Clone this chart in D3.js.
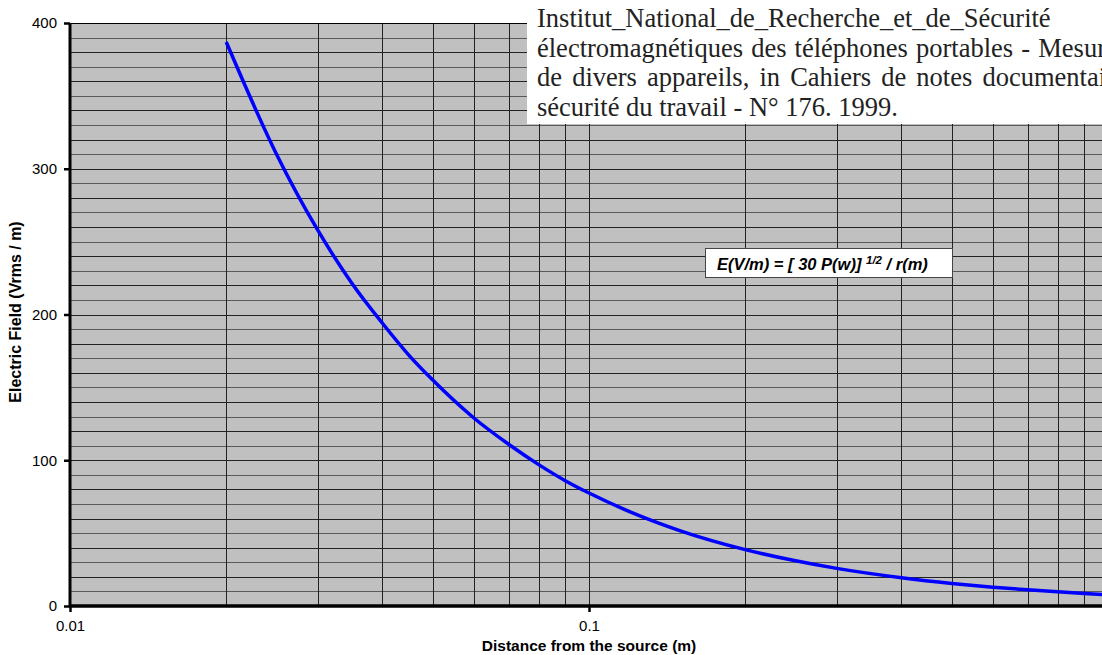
<!DOCTYPE html>
<html><head><meta charset="utf-8">
<script src="https://cdn.jsdelivr.net/npm/d3@7"></script>
<style>body{margin:0;background:#fff}svg{display:block}</style>
</head><body>
<svg id="c" width="1102" height="655"></svg>
<script>
const distance = [0.02, 0.025, 0.03, 0.035, 0.04, 0.045, 0.05, 0.06, 0.07, 0.08, 0.09, 0.1, 0.12, 0.15, 0.2, 0.25, 0.3, 0.4, 0.5, 0.6, 0.7, 0.8, 0.9, 1.0];
const field = [387, 310, 258, 221, 194, 172, 155, 129, 111, 97, 86, 77.5, 64.6, 51.6, 38.7, 31, 25.8, 19.4, 15.5, 12.9, 11.1, 9.7, 8.6, 7.75];
const xTickValues = [0.01, 0.1];
const xTickLabels = ["0.01", "0.1"];
const yTickValues = [0, 100, 200, 300, 400];
const xGridValues = [0.02,0.03,0.04,0.05,0.06,0.07,0.08,0.09,0.1,0.2,0.3,0.4,0.5,0.6,0.7,0.8,0.9];
const yGridValues = d3.range(10, 400, 10);
const citation = ["Institut_National_de_Recherche_et_de_Sécurité",
  "électromagnétiques des téléphones portables - Mesures",
  "de divers appareils, in Cahiers de notes documentaires -",
  "sécurité du travail - N° 176. 1999."];
const citationWordSpacing = [0, 1.5, 3.5, 0];

const svg = d3.select("#c");
const L = 70, T = 23, B = 606, R = 1108;
const x = d3.scaleLog().domain([0.01, 1]).range([L, R]);
const y = d3.scaleLinear().domain([0, 400]).range([B, T]);
const sans = "Liberation Sans, Arial, sans-serif";

svg.append("rect").attr("x", L).attr("y", T).attr("width", R - L).attr("height", B - T).attr("fill", "#c0c0c0");
const g = svg.append("g").attr("stroke", "#222").attr("stroke-width", 1).attr("shape-rendering", "crispEdges");
g.selectAll(".h").data(yGridValues).join("line")
  .attr("x1", L).attr("x2", R).attr("y1", d => Math.round(y(d)) + 0.5).attr("y2", d => Math.round(y(d)) + 0.5)
  .attr("stroke", (d, i) => i % 2 ? "#222" : "#5a5a5a");
g.selectAll(".v").data(xGridValues).join("line")
  .attr("y1", T).attr("y2", B).attr("x1", d => Math.round(x(d)) + 0.5).attr("x2", d => Math.round(x(d)) + 0.5);
g.append("line").attr("x1", L).attr("x2", R).attr("y1", T + 0.5).attr("y2", T + 0.5).attr("stroke", "#000");

// curve
const line = d3.line().x((d, i) => x(distance[i])).y(d => y(d)).curve(d3.curveMonotoneX);
svg.append("path").datum(field).attr("d", line).attr("fill", "none").attr("stroke", "#0000ff").attr("stroke-width", 3.5);

// axes
const yAxis = d3.axisLeft(y).tickValues(yTickValues).tickSize(6).tickPadding(7);
const ya = svg.append("g").attr("transform", `translate(${L},0)`).call(yAxis);
ya.select(".domain").attr("stroke", "#000").attr("stroke-width", 3).attr("d", `M0,${T}V${B + 1}`);
ya.selectAll(".tick line").attr("stroke", "#000").attr("stroke-width", 2.5);
ya.selectAll(".tick text").attr("font-family", sans).attr("font-size", 15).attr("fill", "#000");

const xAxis = d3.axisBottom(x).tickValues(xTickValues).tickFormat((d, i) => xTickLabels[i]).tickSize(6).tickPadding(8);
const xa = svg.append("g").attr("transform", `translate(0,${B})`).call(xAxis);
xa.select(".domain").attr("stroke", "#000").attr("stroke-width", 3.5).attr("d", `M${L - 1},0H${R}`);
xa.selectAll(".tick line").attr("stroke", "#000").attr("stroke-width", 2.5);
xa.selectAll(".tick text").attr("font-family", sans).attr("font-size", 15).attr("fill", "#000");

svg.append("text").attr("x", 589).attr("y", 651).attr("text-anchor", "middle")
  .attr("font-family", sans).attr("font-size", 15.5).attr("font-weight", "bold")
  .text("Distance from the source (m)");
svg.append("text").attr("transform", "translate(21,312) rotate(-90)").attr("text-anchor", "middle")
  .attr("font-family", sans).attr("font-size", 16).attr("font-weight", "bold")
  .text("Electric Field (Vrms / m)");

// formula box
svg.append("rect").attr("x", 705.5).attr("y", 248.5).attr("width", 247).attr("height", 29).attr("fill", "#fff").attr("stroke", "#444");
const ft = svg.append("text").attr("x", 717).attr("y", 270)
  .attr("font-family", sans).attr("font-size", 16.5).attr("font-weight", "bold").attr("font-style", "italic");
ft.append("tspan").text("E(V/m) = [ 30 P(w)] ");
ft.append("tspan").attr("font-size", 11.5).attr("dy", -6).text("1/2");
ft.append("tspan").attr("dy", 6).text(" / r(m)");

// citation box
svg.append("rect").attr("x", 527).attr("y", 0).attr("width", 600).attr("height", 124).attr("fill", "#fff");
svg.append("g").selectAll("text").data(citation).join("text")
  .attr("x", 537).attr("y", (d, i) => 27 + i * 29.5)
  .attr("word-spacing", (d, i) => citationWordSpacing[i])
  .attr("font-family", "Liberation Serif, Times New Roman, serif").attr("font-size", 26.5).attr("fill", "#222")
  .text(d => d);
</script>
</body></html>
